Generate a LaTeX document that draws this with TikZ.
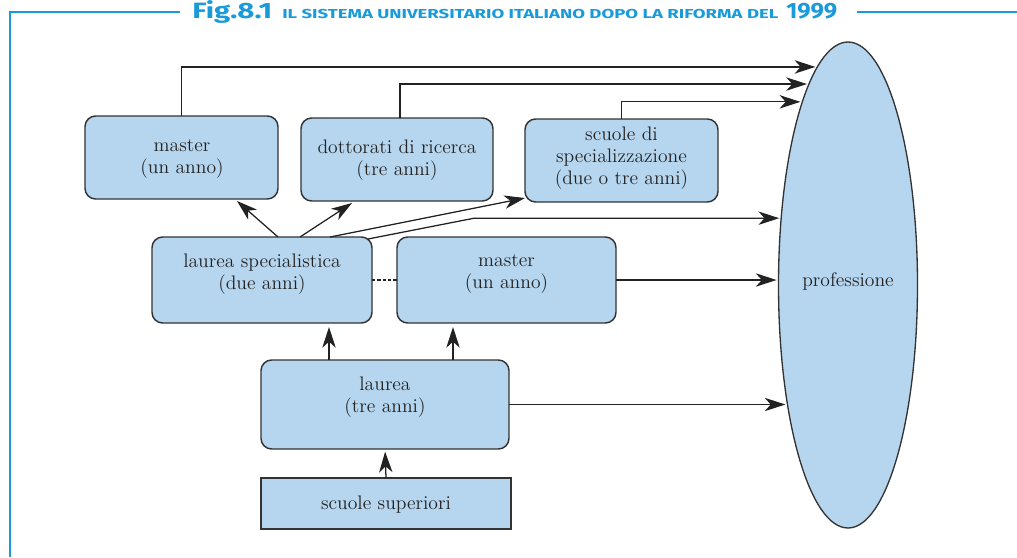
\documentclass[tikz,border=0pt]{standalone}
\usepackage{fontspec}
\usetikzlibrary{arrows.meta,calc,shapes.geometric}
\newfontfamily\titlefont{Fira Sans}
\definecolor{titleblue}{HTML}{1A9AD8}
\definecolor{boxblue}{HTML}{B6D6EF}
\definecolor{edgegray}{HTML}{333333}
\definecolor{inkc}{HTML}{222222}
\newcommand\capbox[3]{\resizebox{#1}{#2}{\smash{#3}\vphantom{F}}}
\begin{document}
\begin{tikzpicture}[x=0.75pt,y=-0.75pt,
  boxst/.style={draw=edgegray, fill=boxblue, line width=1.1pt, rounded corners=8pt, inner sep=0pt, outer sep=0pt},
  sqbox/.style={draw=edgegray, fill=boxblue, line width=1.1pt, sharp corners, inner sep=0pt, outer sep=0pt},
  lbl/.style={font=\fontsize{14.7}{16.5}\selectfont, align=center, inner sep=0pt, text=inkc},
  conn/.style={draw=inkc, line width=0.95pt},
  arr/.style={conn, -{Stealth[length=15.5pt,width=10pt,inset=4.5pt]}},
  frameline/.style={draw=titleblue, line width=1.8pt}]
\useasboundingbox (0,0) rectangle (1017,557);

% frame and title
\draw[frameline] (10,557) -- (10,12) -- (180,12);
\draw[frameline] (857,12) -- (1017,12);
\node[anchor=base west, text=titleblue, inner sep=0pt] (title) at (192,18.3)
  {\titlefont\bfseries\fontsize{16}{17}\selectfont\capbox{60pt}{11.5pt}{Fig.8.1}\hspace{7.5pt}\capbox{372pt}{6.75pt}{IL SISTEMA UNIVERSITARIO ITALIANO DOPO LA RIFORMA DEL}\hspace{6pt}\capbox{38.25pt}{11.5pt}{1999}};

% boxes
\node[boxst, minimum width=144.75pt, minimum height=62.25pt] (m1) at (181.5,157.5) {};
\node[lbl] (m1t) at (182,159) {master\\(un anno)};
\node[boxst, minimum width=144pt, minimum height=62.25pt] (d) at (397,159.5) {};
\node[lbl] (dt) at (397,160) {dottorati di ricerca\\(tre anni)};
\node[boxst, minimum width=144.75pt, minimum height=62.25pt] (s) at (621.5,160.5) {};
\node[lbl] (st) at (621.5,158.5) {scuole di\\specializzazione\\(due o tre anni)};
\node[boxst, minimum width=165pt, minimum height=64.5pt] (ls) at (262,280) {};
\node[lbl] (lst) at (262,274) {laurea specialistica\\(due anni)};
\node[boxst, minimum width=164.25pt, minimum height=64.5pt] (m2) at (506.5,280) {};
\node[lbl] (m2t) at (506.5,274) {master\\(un anno)};
\node[boxst, minimum width=186pt, minimum height=66.75pt] (l) at (385,404.5) {};
\node[lbl] (lt) at (385,397.5) {laurea\\(tre anni)};
\node[sqbox, minimum width=187.5pt, minimum height=38.25pt] (ss) at (386,503.5) {};
\node[lbl] (sst) at (386,505) {scuole superiori};
\node[ellipse, draw=edgegray, fill=boxblue, line width=1pt, minimum width=104.25pt, minimum height=364.5pt, inner sep=0pt, outer sep=0pt] (prof) at (848,285) {};
\node[lbl] (proft) at (848,281) {professione};

% connectors to professione
\draw[arr, shorten >=1.5pt] (m1.north) |- (prof.98.0);
\draw[arr, shorten >=1.5pt] ([xshift=2.25pt]d.north) |- (prof.101.3);
\draw[arr, shorten >=1.5pt] (s.north) |- (prof.104.9);
\draw[arr, shorten >=1.5pt] ($(ls.north east)+(-4,2)$) -- ($(prof.135.4)+(-307,0)$) -- (prof.135.4);
\draw[arr, shorten >=1.5pt] (m2.east) -- (prof.175.9 |- m2.east);
\draw[arr, shorten >=1.5pt] (l.east) -- (prof.243.1 |- l.east);

% connectors from laurea specialistica
\draw[arr] ($(ls.north)+(16,0)$) -- ($(m1.south)+(55.5,2)$);
\draw[arr] ($(ls.north)+(38,0)$) -- ($(d.south)+(-45,2)$);
\draw[arr] ($(ls.north)+(68,0)$) -- ($(s.south west)+(0,-4)$);
\draw[conn, dash pattern=on 2.5pt off 1.5pt] (ls.east) -- (m2.west);

% connectors from laurea and scuole superiori
\coordinate (la) at ($(l.north)+(-56,0)$);
\coordinate (lb) at ($(l.north)+(68,0)$);
\draw[arr, shorten >=3pt] (la) -- (la |- ls.south);
\draw[arr, shorten >=3pt] (lb) -- (lb |- m2.south);
\draw[arr, shorten >=2pt] (ss.north) -- (l.south);
\end{tikzpicture}
\end{document}
